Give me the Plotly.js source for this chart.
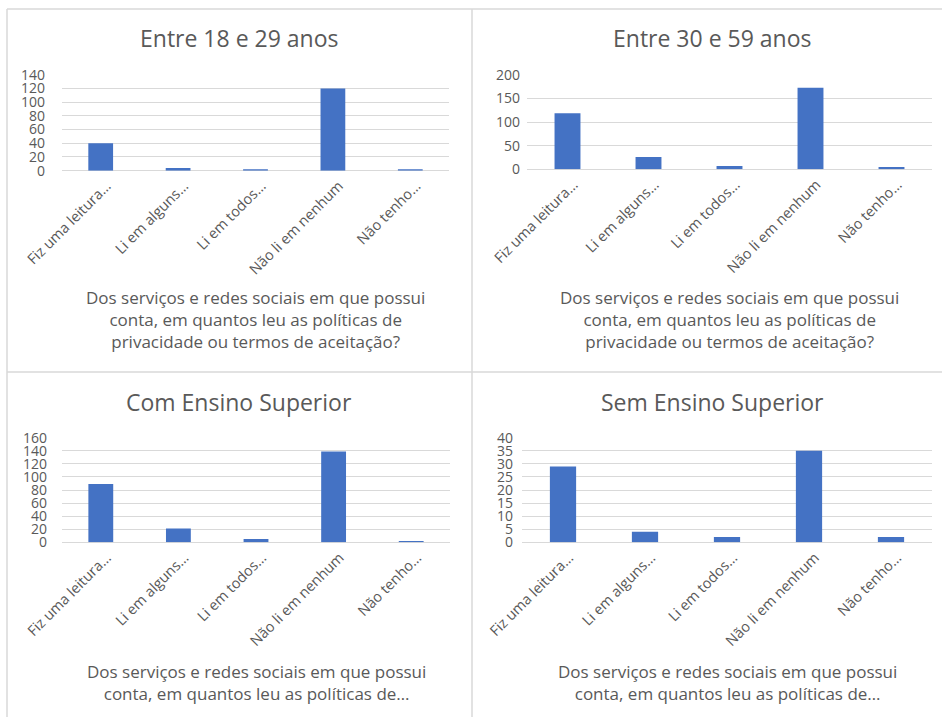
<!DOCTYPE html>
<html>
<head>
<meta charset="utf-8">
<script src="https://cdn.plot.ly/plotly-3.0.1.min.js"></script>
<style>
  html, body { margin: 0; padding: 0; background: #ffffff; }
  #chart { width: 942px; height: 717px; }
</style>
</head>
<body>
<div id="chart"></div>
<script>
// Answer options (shortened as in the survey report)
const categories = ['Fiz uma leitura…', 'Li em alguns…', 'Li em todos…', 'Não li em nenhum', 'Não tenho…'];

// Respondent counts per group
const age18to29 = [40, 4, 2, 120, 2];
const age30to59 = [119, 26, 7, 173, 5];
const withHigherEd = [89, 21, 5, 139, 2];
const withoutHigherEd = [29, 4, 2, 35, 2];

const panelTitles = ['Entre 18 e 29 anos', 'Entre 30 e 59 anos', 'Com Ensino Superior', 'Sem Ensino Superior'];
const questionFull = 'Dos serviços e redes sociais em que possui<br>conta, em quantos leu as políticas de<br>privacidade ou termos de aceitação?';
const questionShort = 'Dos serviços e redes sociais em que possui<br>conta, em quantos leu as políticas de…';

const W = 942, H = 717;
const fx = px => px / W;
const fy = py => 1 - py / H;

const FONT = 'Open Sans, Noto Sans, sans-serif';
const TEXT = '#595959';
const GRID = '#d9d9d9';
const BAR = '#4472C4';

const series = [age18to29, age30to59, withHigherEd, withoutHigherEd];
const data = series.map((vals, i) => ({
  type: 'bar',
  x: categories,
  y: vals,
  xaxis: i === 0 ? 'x' : 'x' + (i + 1),
  yaxis: i === 0 ? 'y' : 'y' + (i + 1),
  marker: { color: BAR },
  hoverinfo: 'x+y',
  showlegend: false
}));

function xAxis(domain, anchor) {
  return {
    domain: domain, anchor: anchor,
    type: 'category',
    tickangle: -45,
    tickfont: { family: FONT, size: 14.5, color: TEXT },
    ticklabelshift: 6,
    ticklabelstandoff: 3,
    showgrid: false, showline: false, ticks: '',
    fixedrange: true
  };
}
function yAxis(domain, anchor, range, dtick, standoff) {
  return {
    domain: domain, anchor: anchor,
    range: range, dtick: dtick, tick0: 0,
    tickfont: { family: FONT, size: 14, color: TEXT },
    showgrid: true, gridcolor: GRID, gridwidth: 1,
    zeroline: true, zerolinecolor: GRID, zerolinewidth: 1,
    showline: false, ticks: '',
    ticklabelstandoff: standoff,
    fixedrange: true
  };
}

const line = (x0, y0, x1, y1) => ({
  type: 'line', xref: 'paper', yref: 'paper',
  x0: fx(x0), y0: fy(y0), x1: fx(x1), y1: fy(y1),
  line: { color: GRID, width: 1.5 }
});

const titleAnn = (text, cx, cy) => ({
  text: text, xref: 'paper', yref: 'paper', x: fx(cx), y: fy(cy),
  xanchor: 'center', yanchor: 'middle', showarrow: false,
  font: { family: FONT, size: 23, color: TEXT }
});
const questionAnn = (text, cx, cy) => ({
  text: text, xref: 'paper', yref: 'paper', x: fx(cx), y: fy(cy),
  xanchor: 'center', yanchor: 'middle', showarrow: false,
  font: { family: FONT, size: 17, color: TEXT }
});

const layout = {
  width: W, height: H,
  margin: { l: 0, r: 0, t: 0, b: 0 },
  paper_bgcolor: '#ffffff', plot_bgcolor: '#ffffff',
  bargap: 0.68,
  xaxis:  xAxis([fx(62), fx(449)], 'y'),
  yaxis:  yAxis([fy(170.7), fy(74.7)], 'x', [0, 140], 20, 16),
  xaxis2: xAxis([fx(527), fx(932)], 'y2'),
  yaxis2: yAxis([fy(169.3), fy(75)], 'x2', [0, 200], 50, 6),
  xaxis3: xAxis([fx(62), fx(450)], 'y3'),
  yaxis3: yAxis([fy(542.3), fy(437.7)], 'x3', [0, 160], 20, 14),
  xaxis4: xAxis([fx(522), fx(932)], 'y4'),
  yaxis4: yAxis([fy(542.3), fy(437.7)], 'x4', [0, 40], 5, 8),
  shapes: [
    line(7, 9, 942, 9),
    line(7, 9, 7, 717),
    line(472, 9, 472, 717),
    line(7, 372, 942, 372)
  ],
  annotations: [
    titleAnn(panelTitles[0], 239, 38),
    titleAnn(panelTitles[1], 712, 38),
    titleAnn(panelTitles[2], 239, 402),
    titleAnn(panelTitles[3], 712, 402),
    questionAnn(questionFull, 255.5, 319),
    questionAnn(questionFull, 729.5, 319),
    questionAnn(questionShort, 256, 682),
    questionAnn(questionShort, 727, 682)
  ]
};

Plotly.newPlot('chart', data, layout, { displayModeBar: false, staticPlot: true });
</script>
</body>
</html>
